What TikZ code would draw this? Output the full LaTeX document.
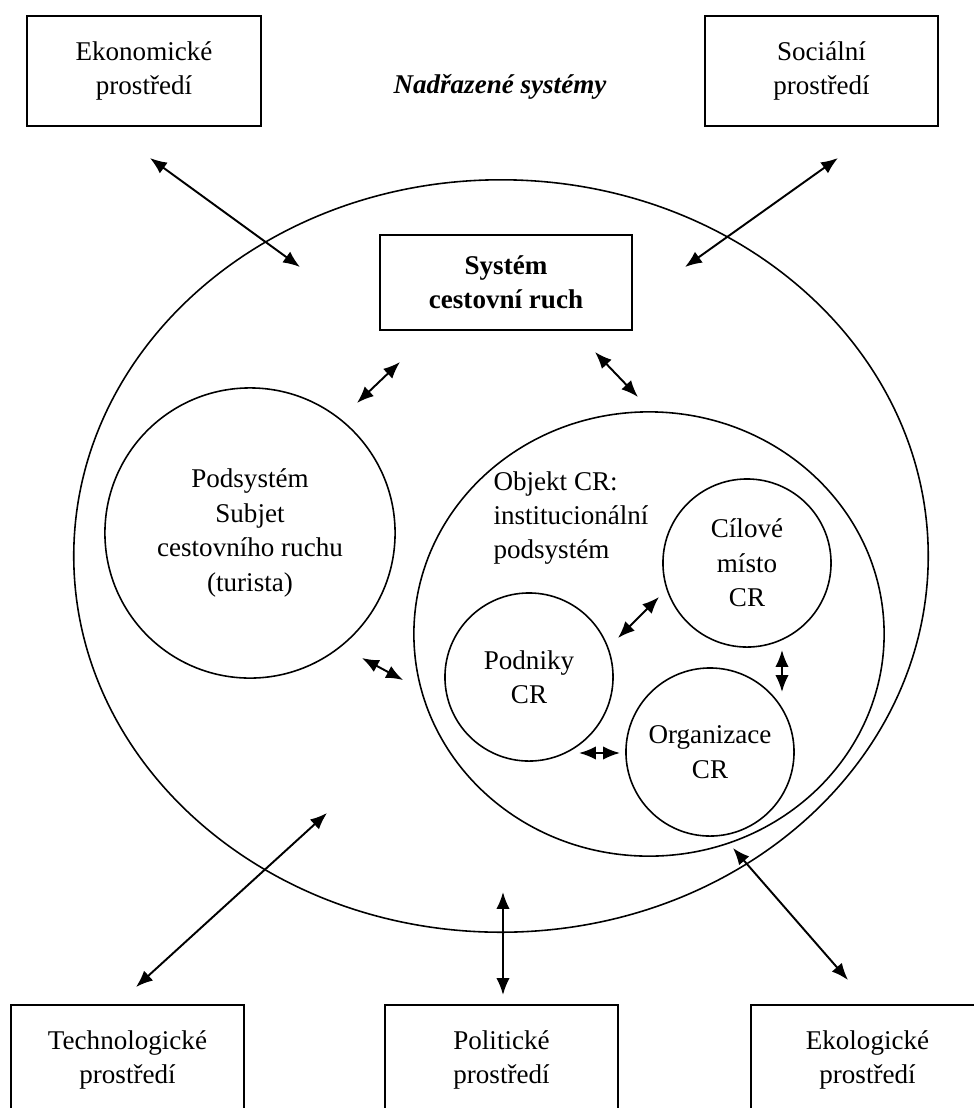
\documentclass[tikz,border=0pt]{standalone}
\usepackage{fontspec}
\setmainfont{Liberation Serif}
\usetikzlibrary{arrows.meta,shapes.geometric}
\tikzset{
    envbox/.style = {draw, rectangle, line width=.6pt,
        minimum width=2.33cm,
        minimum height=1.1cm, align=center},
    subsys/.style = {draw, circle, line width=.45pt, inner sep=0pt,
        minimum size=1.68cm, align=center},
    area/.style = {draw, ellipse, line width=.45pt, inner sep=0pt},
    link/.style = {{Latex[length=4.8pt,width=3.8pt]}-{Latex[length=4.8pt,width=3.8pt]}, line width=.55pt}
}

\begin{document}
\begin{tikzpicture}[x=.01cm,y=-.01cm,font=\fontsize{7.7}{9.8}\selectfont]
    \path[use as bounding box, clip] (0,0) rectangle (974,1108);
    % okoli
    \node [envbox] (eko) at (144,71) {Ekonomické\\prostředí};
    \node [envbox] (soc) at (821.5,71) {Sociální\\prostředí};
    \node (nadr) at (500,87) {\textbf{\textit{Nadřazené systémy}}};
    \node [envbox] (tech) at (127.5,1060) {Technologické\\prostředí};
    \node [envbox] (pol) at (501.5,1060) {Politické\\prostředí};
    \node [envbox] (ekol) at (867.5,1060) {Ekologické\\prostředí};
    % system CR
    \node [area, minimum width=8.54cm, minimum height=7.52cm] (cr) at (501,556) {};
    \node [envbox, minimum width=2.52cm, minimum height=.95cm, font=\fontsize{7.7}{9.8}\selectfont\bfseries] (sys) at (506,282.5) {Systém\\cestovní ruch};
    \node [subsys, minimum size=2.9cm] (subj) at (250,533) {Podsystém\\Subjet\\cestovního ruchu\\(turista)};
    \node [area, minimum width=4.7cm, minimum height=4.44cm] (obj) at (649,634) {};
    \node [align=left, inner sep=0pt] (objt) at (571,518) {Objekt CR:\\institucionální\\podsystém};
    \node [subsys] (cil) at (747,563) {Cílové\\místo\\CR};
    \node [subsys] (pod) at (529,677) {Podniky\\CR};
    \node [subsys] (org) at (710,752) {Organizace\\CR};
    % konce sipek
    \coordinate (a1) at (150,158);  \coordinate (b1) at (300,267);
    \coordinate (a2) at (838,158);  \coordinate (b2) at (685,267);
    \coordinate (a3) at (400,362);  \coordinate (b3) at (357,403);
    \coordinate (a4) at (595,352);  \coordinate (b4) at (638,397);
    \coordinate (a5) at (362,658);  \coordinate (b5) at (403,680);
    \coordinate (a6) at (618,638);  \coordinate (b6) at (659,597);
    \coordinate (a7) at (782,650);  \coordinate (b7) at (782,692);
    \coordinate (a8) at (579,753);  \coordinate (b8) at (620,753);
    \coordinate (a9) at (327,813);  \coordinate (b9) at (136,987);
    \coordinate (a10) at (503,892); \coordinate (b10) at (503,995);
    \coordinate (a11) at (733,848); \coordinate (b11) at (848,980);
    \foreach \i in {1,...,11}
        \draw [link] (a\i) -- (b\i);
\end{tikzpicture}
\end{document}
